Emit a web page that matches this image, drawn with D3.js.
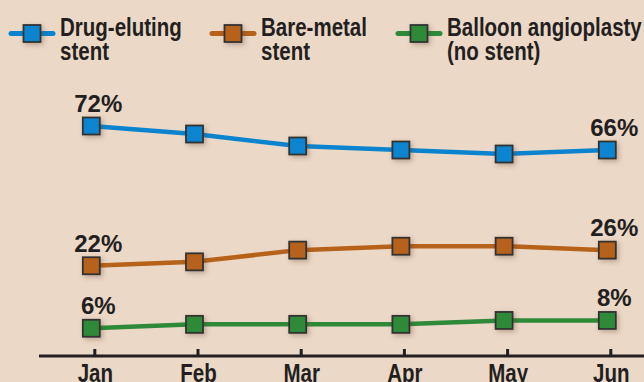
<html>
	<head>
		<script type="text/javascript" src="https://cdn.jsdelivr.net/npm/d3@7"></script>
		<style>
			html, body{
				margin:0;
				padding:0;
				background:#ecd8c7;
			}

			#container{
				width:644px;
				height:382px;
			}

			svg{
				display:block;
			}

			/* narrow bold look: Liberation Sans Bold squeezed to 82% */
			.cond{
				font-family:"Liberation Sans", Arial, sans-serif;
				font-weight:bold;
				fill:#231f20;
			}

			.pct{
				font-family:"Liberation Sans", Arial, sans-serif;
				font-weight:bold;
				fill:#231f20;
			}
		</style>
	</head>
	<body>
		<div id="container"></div>
		<script type="text/javascript">

			// data
			var months = ["Jan", "Feb", "Mar", "Apr", "May", "Jun"];
			var drugEluting = [72, 70, 67, 66, 65, 66];
			var bareMetal = [22, 23, 26, 27, 27, 26];
			var balloon = [6, 7, 7, 7, 8, 8];
			var seriesNames = [["Drug-eluting", "stent"], ["Bare-metal", "stent"], ["Balloon angioplasty", "(no stent)"]];
			var seriesColors = ["#0b84cf", "#b6621a", "#2e8a39"];

			var allSeries = [drugEluting, bareMetal, balloon];

			var width = 644, height = 382, squeeze = 0.82;

			var svg = d3.select("#container")
					.append("svg")
					.attr("width", width)
					.attr("height", height);

			// soft shadow behind the square markers
			var defs = svg.append("defs");
			var filt = defs.append("filter")
				.attr("id", "shadow")
				.attr("x", "-60%").attr("y", "-60%")
				.attr("width", "220%").attr("height", "220%");
			filt.append("feDropShadow")
				.attr("dx", 2).attr("dy", 2)
				.attr("stdDeviation", 2.5)
				.attr("flood-color", "#5a3a2a")
				.attr("flood-opacity", 0.35);

			var x = d3.scalePoint()
				.domain(months)
				.range([91.3, 607.3]);

			// broken scale: top part is squeezed so the blue line fits
			var y = d3.scaleLinear()
				.domain([0, 30, 60, 80])
				.range([351.7, 234.5, 174, 94]);

			// axis
			var xAxis = d3.axisBottom(x)
				.tickSize(0)
				.tickPadding(0)
				.tickFormat("");

			var axisG = svg.append("g")
				.attr("transform", "translate(3, 356)")
				.call(xAxis);
			axisG.select(".domain").remove();

			axisG.selectAll(".tick").append("rect")
				.attr("x", -1.5)
				.attr("y", -7)
				.attr("width", 3)
				.attr("height", 7)
				.attr("fill", "#231f20");

			axisG.selectAll(".tick").append("text")
				.attr("class", "cond")
				.attr("transform", "translate(0.5, 25.5) scale(" + squeeze + ", 1)")
				.attr("text-anchor", "middle")
				.style("font-size", "25px")
				.text(function(d,i){ return d; });

			svg.append("line")
				.attr("x1", 39)
				.attr("x2", width)
				.attr("y1", 356)
				.attr("y2", 356)
				.attr("stroke", "#231f20")
				.attr("stroke-width", 3);

			var line = d3.line()
				.x(function(d,i){ return x(months[i]); })
				.y(function(d,i){ return y(d); });

			allSeries.forEach(function(vals, s){
				var g = svg.append("g");

				g.append("path")
					.datum(vals)
					.attr("d", line)
					.attr("fill", "none")
					.attr("stroke", seriesColors[s])
					.attr("stroke-width", 4.5);

				g.selectAll("rect").data(vals).enter().append("rect")
					.attr("x", function(d,i){ return x(months[i]) - 8.5; })
					.attr("y", function(d,i){ return y(d) - 8.5; })
					.attr("width", 17)
					.attr("height", 17)
					.attr("fill", seriesColors[s])
					.attr("stroke", "#333")
					.attr("stroke-width", 1.8)
					.attr("filter", "url(#shadow)");

				// first and last value labels
				[0, vals.length - 1].forEach(function(i){
					g.append("text")
						.attr("class", "pct")
						.attr("x", x(months[i]) + 7)
						.attr("y", y(vals[i]) - 14)
						.attr("text-anchor", "middle")
						.style("font-size", "24px")
						.text(vals[i] + "%");
				});
			});

			// legend
			var legendX = [32, 233, 419];

			seriesNames.forEach(function(names, s){
				var lg = svg.append("g")
					.attr("transform", "translate(" + legendX[s] + ", 33.5)");

				lg.append("line")
					.attr("x1", -21)
					.attr("x2", 21)
					.attr("y1", 0)
					.attr("y2", 0)
					.attr("stroke", seriesColors[s])
					.attr("stroke-width", 5)
					.attr("stroke-linecap", "round");

				lg.append("rect")
					.attr("x", -8.5)
					.attr("y", -8.5)
					.attr("width", 17)
					.attr("height", 17)
					.attr("fill", seriesColors[s])
					.attr("stroke", "#333")
					.attr("stroke-width", 1.8)
					.attr("filter", "url(#shadow)");

				lg.selectAll("text").data(names).enter().append("text")
					.attr("class", "cond")
					.attr("transform", function(d,i){
						return "translate(28, " + (2.2 + i * 24.3) + ") scale(" + squeeze + ", 1)";
					})
					.style("font-size", "25px")
					.text(function(d,i){ return d; });
			});

		</script>
	</body>
</html>
